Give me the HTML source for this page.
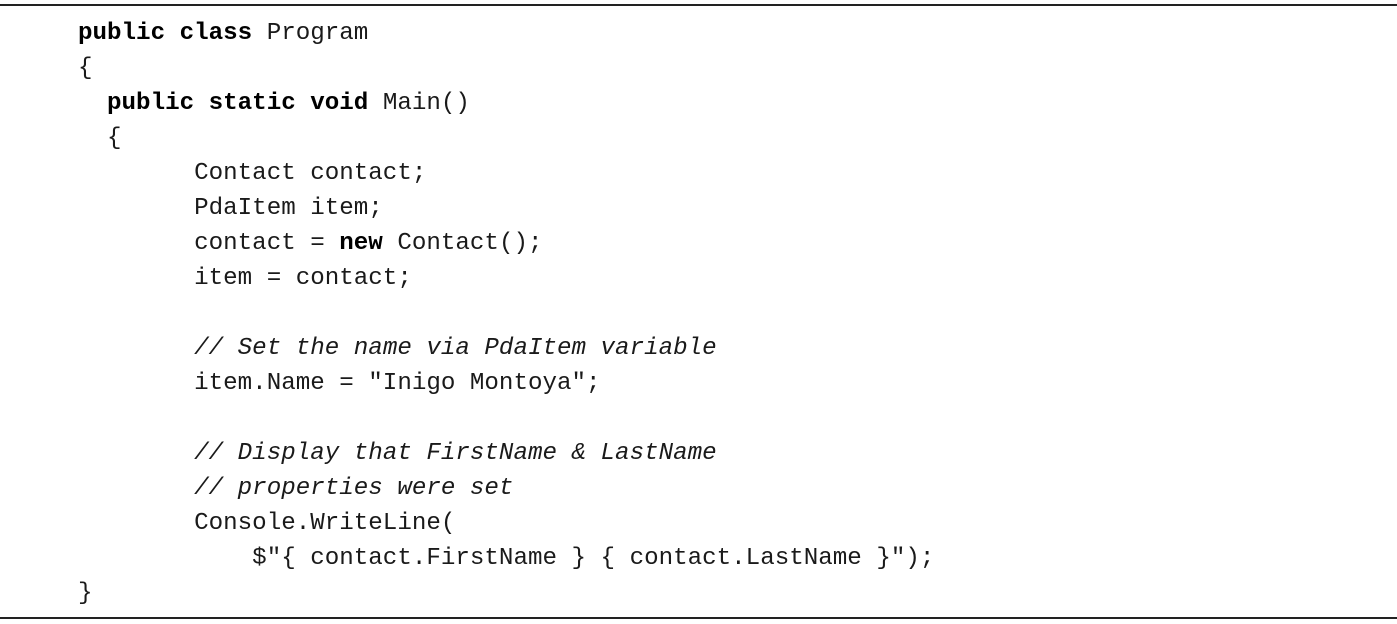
<!DOCTYPE html>
<html><head><meta charset="utf-8"><style>
html,body{margin:0;padding:0;background:#fff;}
body{width:1397px;height:624px;position:relative;overflow:hidden;}
.rule{position:absolute;left:0;width:1397px;height:2px;background:#222;}
pre{position:absolute;left:78px;top:16px;margin:0;font-family:"Liberation Mono",monospace;font-size:24.2px;line-height:35px;color:#1a1a1a;}
b{font-weight:bold;color:#000;}
i{font-style:italic;}
</style></head><body>
<div class="rule" style="top:4px"></div>
<div class="rule" style="top:617px"></div>
<pre><b>public</b> <b>class</b> Program
{
  <b>public</b> <b>static</b> <b>void</b> Main()
  {
        Contact contact;
        PdaItem item;
        contact = <b>new</b> Contact();
        item = contact;

        <i>// Set the name via PdaItem variable</i>
        item.Name = "Inigo Montoya";

        <i>// Display that FirstName &amp; LastName</i>
        <i>// properties were set</i>
        Console.WriteLine(
            $"{ contact.FirstName } { contact.LastName }");
}</pre>
</body></html>
